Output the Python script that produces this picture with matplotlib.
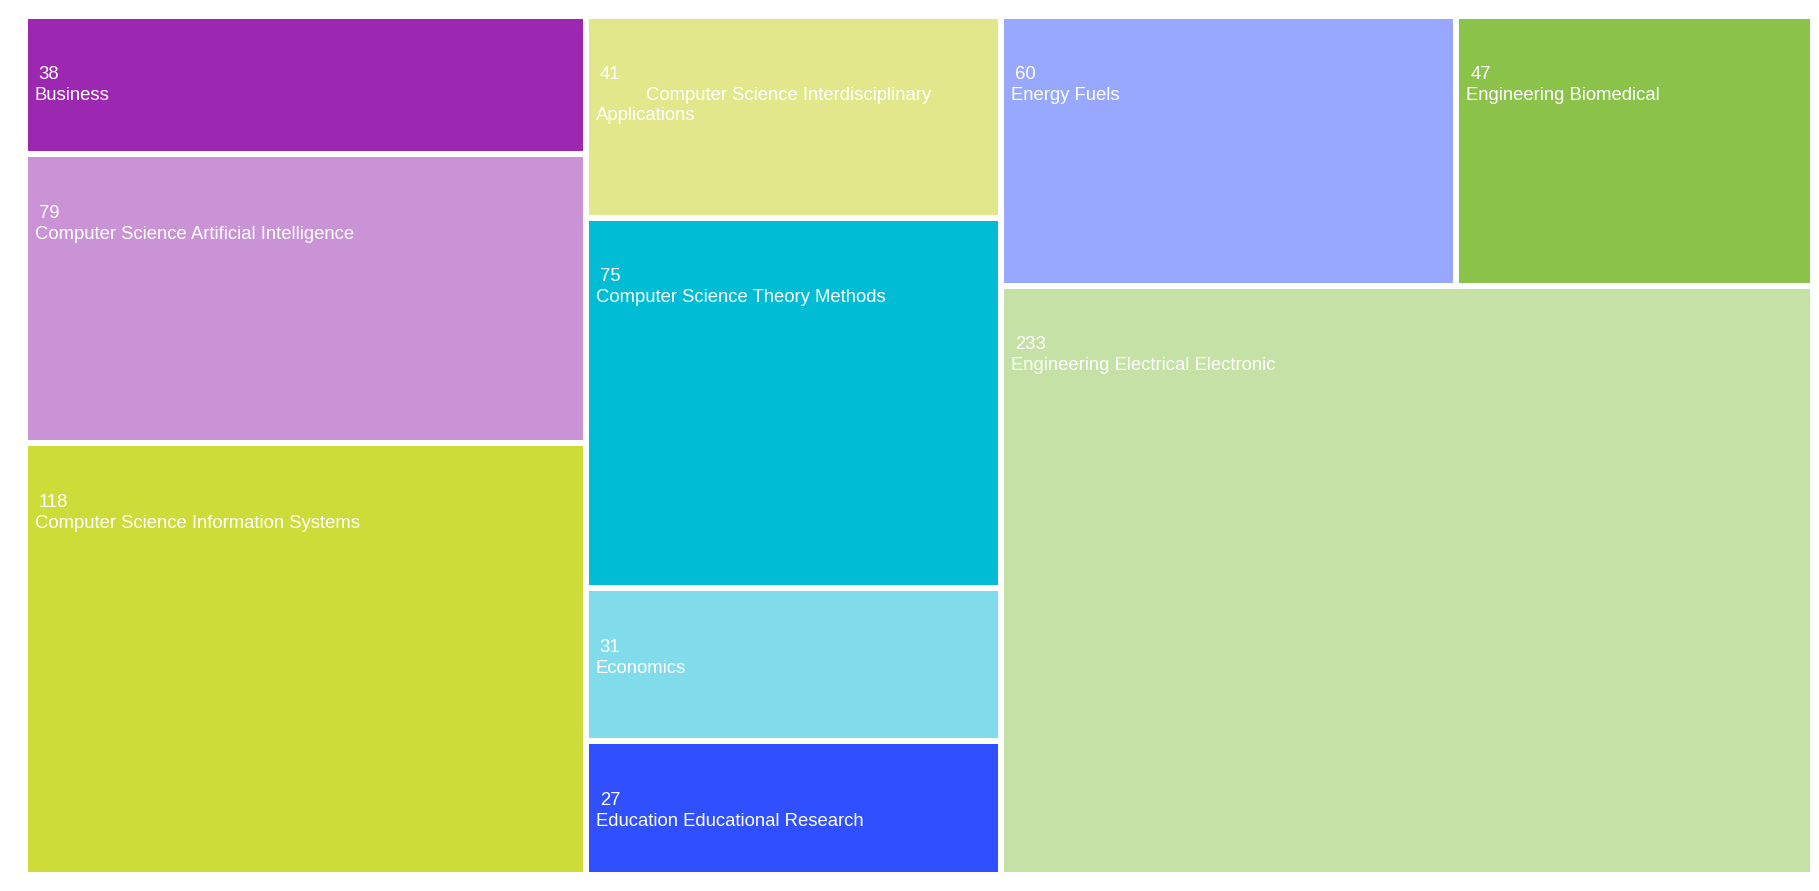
import matplotlib
matplotlib.use("Agg")
import matplotlib.pyplot as plt
from matplotlib.patches import Rectangle

# Research categories and record counts
categories = [
    "Business",
    "Computer Science Artificial Intelligence",
    "Computer Science Information Systems",
    "Computer Science Interdisciplinary Applications",
    "Computer Science Theory Methods",
    "Economics",
    "Education Educational Research",
    "Energy Fuels",
    "Engineering Biomedical",
    "Engineering Electrical Electronic",
]
counts = [38, 79, 118, 41, 75, 31, 27, 60, 47, 233]
colors = [
    "#9C27B0", "#CA93D6", "#CDDC39", "#E1E78A", "#00BCD4",
    "#80DCEA", "#304FFE", "#97A8FE", "#8BC34A", "#C5E1A5",
]

PHI = (1 + 5 ** 0.5) / 2


def squarify(values, x0, y0, x1, y1, ratio=PHI):
    """Squarified treemap layout (same rule as d3.treemapSquarify)."""
    rects = [None] * len(values)
    n = len(values)
    total = float(sum(values))
    i0 = i1 = 0
    while i0 < n:
        dx, dy = x1 - x0, y1 - y0
        s = values[i1]
        i1 += 1
        vmin = vmax = s
        alpha = max(dy / dx, dx / dy) / (total * ratio)
        beta = s * s * alpha
        min_ratio = max(vmax / beta, beta / vmin)
        while i1 < n:
            v = values[i1]
            s += v
            vmin = min(vmin, v)
            vmax = max(vmax, v)
            beta = s * s * alpha
            new_ratio = max(vmax / beta, beta / vmin)
            if new_ratio > min_ratio:
                s -= v
                break
            min_ratio = new_ratio
            i1 += 1
        row = list(range(i0, i1))
        if dx < dy:
            # horizontal row across the top
            h = dy * s / total if total else dy
            cx = x0
            for k in row:
                w = dx * values[k] / s
                rects[k] = (cx, y0, cx + w, y0 + h)
                cx += w
            y0 += h
        else:
            # vertical column on the left
            w = dx * s / total if total else dx
            cy = y0
            for k in row:
                h = dy * values[k] / s
                rects[k] = (x0, cy, x0 + w, cy + h)
                cy += h
            x0 += w
        total -= s
        i0 = i1
    return rects


W, H = 1819, 891
fig = plt.figure(figsize=(W / 100, H / 100), dpi=100)
ax = fig.add_axes([0, 0, 1, 1])
ax.set_xlim(0, W)
ax.set_ylim(H, 0)
ax.axis("off")

gap = 3.0
rects = squarify(counts, 24.7, 15.5, 1812.7, 874.5)

font = ["Liberation Sans", "DejaVu Sans"]
fs = 13.3

for name, val, col, (a, b, c, d) in zip(categories, counts, colors, rects):
    left, top = a + gap, b + gap
    ax.add_patch(Rectangle((left, top), (c - a) - 2 * gap, (d - b) - 2 * gap,
                           facecolor=col, edgecolor="none"))
    ax.text(left + 11, top + 60.5, str(val), color="white", fontsize=fs,
            family=font, va="baseline", ha="left")
    if name == "Computer Science Interdisciplinary Applications":
        ax.text(left + 57, top + 81.5, "Computer Science Interdisciplinary",
                color="white", fontsize=fs, family=font, va="baseline", ha="left")
        ax.text(left + 7, top + 101, "Applications",
                color="white", fontsize=fs, family=font, va="baseline", ha="left")
    else:
        ax.text(left + 7, top + 81.5, name, color="white", fontsize=fs,
                family=font, va="baseline", ha="left")

fig.savefig("out.png", dpi=100, facecolor="white")
